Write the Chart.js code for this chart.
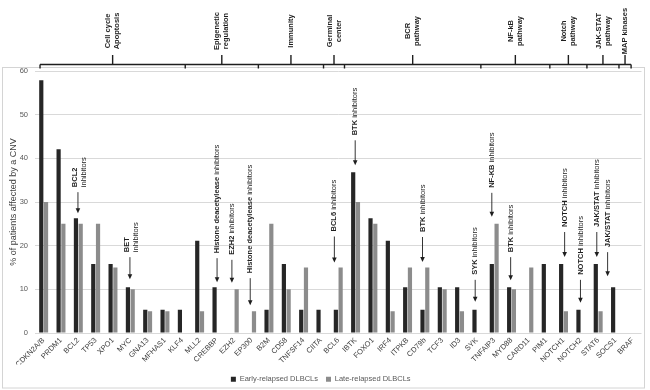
<!DOCTYPE html>
<html><head><meta charset="utf-8">
<script src="https://cdn.jsdelivr.net/npm/chart.js@4/dist/chart.umd.min.js"></script>
<style>html,body{margin:0;padding:0;background:#fff;}#wrap{width:650px;height:390px;position:relative;}</style>
</head><body><div id="wrap"><canvas id="c" width="650" height="390"></canvas></div>
<script>
// ---------- DATA ----------
const categories = ['CDKN2A/B','PRDM1','BCL2','TP53','XPO1','MYC','GNA13','MFHAS1','KLF4','MLL2','CREBBP','EZH2','EP300','B2M','CD58','TNFSF14','CIITA','BCL6','IBTK','FOXO1','IRF4','ITPKB','CD79b','TCF3','ID3','SYK','TNFAIP3','MYD88','CARD11','PIM1','NOTCH1','NOTCH2','STAT6','SOCS1','BRAF'];
const earlyRelapsed = [57.9,42.1,26.3,15.8,15.8,10.5,5.3,5.3,5.3,21.1,10.5,0,0,5.3,15.8,5.3,5.3,5.3,36.8,26.3,21.1,10.5,5.3,10.5,10.5,5.3,15.8,10.5,0,15.8,15.8,5.3,15.8,10.5,0];
const lateRelapsed  = [30,25,25,25,15,10,5,5,0,5,0,10,5,25,10,15,0,15,30,25,5,15,15,10,5,0,25,10,15,0,5,0,5,0,0];
const seriesNames = ['Early-relapsed DLBCLs','Late-relapsed DLBCLs'];
const yTickValues = [0,10,20,30,40,50,60];
const yTitle = '% of patients affected by a CNV';
const groupNames = [['Cell cycle','Apoptosis'],['Epigenetic','regulation'],['Immunity'],['Germinal','center'],['BCR','pathway'],['NF-kB','pathway'],['Notch','pathway'],['JAK-STAT','pathway'],['MAP kinases']];
const annotationGenes = ['BCL2','MYC','CREBBP','EZH2','EP300','BCL6','IBTK','CD79b','SYK','TNFAIP3','MYD88','NOTCH1','NOTCH2','STAT6','SOCS1'];
const annotationTexts = [
  ['**BCL2**','inhibitors'],
  ['**BET**','inhibitors'],
  ['**Histone deacetylease** inhibitors'],
  ['**EZH2** inhibitors'],
  ['**Histone deacetylease** inhibitors'],
  ['**BCL6** inhibitors'],
  ['**BTK** inhibitors'],
  ['**BTK** inhibitors'],
  ['**SYK** inhibitors'],
  ['**NF-KB** inhibitors'],
  ['**BTK** inhibitors'],
  ['**NOTCH** inhibitors'],
  ['**NOTCH** inhibitors'],
  ['**JAK/STAT** inhibitors'],
  ['**JAK/STAT** inhibitors']
];

// ---------- LAYOUT (positions / styles, not data) ----------
const bracketEdges = [-0.21, 8.17, 12.39, 16.15, 17.36, 25.23, 29.21, 31.35, 33.2, 33.9]; // in category-index units
const annDx   = [2, 2, 2.5, 0, 1, -1.5, 2, 0, 0.7, 0, 1.5, 3.5, 2, 1, -5.5];   // px from dark bar centre
const annGap  = [5, 8, 5, 6.5, 6, 5, 7, 5.5, 8, 7, 7, 7, 7, 7, 11];            // px above tallest bar
const annRise = [26, 27, 29, 28, 32, 31, 30, 30, 27, 29, 28, 30, 28, 30, 29];  // tip to text bottom
const FONT = "'Liberation Sans', Arial, Helvetica, sans-serif";
const INK = '#1e1e1e';

Chart.defaults.font.family = FONT;

function parseRich(s){
  const out=[]; const parts=s.split('**');
  parts.forEach((p,i)=>{ if(p.length) out.push({t:p,b:i%2===1}); });
  return out;
}
function drawRich(ctx, s, x, y, size){
  let cx=x;
  parseRich(s).forEach(seg=>{
    ctx.font=(seg.b?'bold ':'')+size+'px '+FONT;
    ctx.fillText(seg.t, cx, y);
    cx+=ctx.measureText(seg.t).width;
  });
}

const bgPlugin = {
  id:'bg',
  afterLayout(chart){
    const lg=chart.legend;
    if(lg){ lg.top+=3; lg.bottom+=3; }
  },
  beforeDraw(chart){
    const c=chart.ctx; c.save(); c.fillStyle='#fff'; c.fillRect(0,0,chart.width,chart.height);
    c.strokeStyle='#d4d4d4'; c.lineWidth=1; c.strokeRect(2.5,67.5,642,320.5);
    c.restore();
  }
};

const decorPlugin = {
  id:'decor',
  afterDraw(chart){
    const xs=chart.scales.x, ys=chart.scales.y, ctx=chart.ctx;
    ctx.save();
    // brackets
    const by=64.5;
    ctx.strokeStyle=INK; ctx.lineWidth=1.4;
    const ex=bracketEdges.map(e=>xs.getPixelForValue(e));
    ctx.beginPath(); ctx.moveTo(ex[0],by); ctx.lineTo(ex[ex.length-1],by); ctx.stroke();
    ex.forEach(x=>{ ctx.beginPath(); ctx.moveTo(x,by); ctx.lineTo(x,by+4); ctx.stroke(); });
    ctx.fillStyle=INK; ctx.textBaseline='middle'; ctx.textAlign='center';
    groupNames.forEach((lines,k)=>{
      const cx=(ex[k]+ex[k+1])/2;
      ctx.beginPath(); ctx.moveTo(cx,by); ctx.lineTo(cx,by-9.5); ctx.stroke();
      ctx.save(); ctx.translate(cx,31); ctx.rotate(-Math.PI/2);
      ctx.font='bold 7.5px '+FONT;
      const lh=9, n=lines.length;
      lines.forEach((ln,j)=>{ ctx.fillText(ln,0,(j-(n-1)/2)*lh); });
      ctx.restore();
    });
    // annotations
    const meta0=chart.getDatasetMeta(0);
    ctx.textAlign='left';
    annotationGenes.forEach((g,k)=>{
      const i=categories.indexOf(g);
      const x=meta0.data[i].x+annDx[k];
      const tip=ys.getPixelForValue(Math.max(earlyRelapsed[i],lateRelapsed[i]))-annGap[k];
      const textBottom=tip-annRise[k];
      ctx.strokeStyle=INK; ctx.lineWidth=0.9;
      ctx.beginPath(); ctx.moveTo(x,textBottom+5); ctx.lineTo(x,tip-4); ctx.stroke();
      ctx.fillStyle=INK;
      ctx.beginPath(); ctx.moveTo(x-2.3,tip-5); ctx.lineTo(x+2.3,tip-5); ctx.lineTo(x,tip); ctx.closePath(); ctx.fill();
      const lines=annotationTexts[k], n=lines.length, lh=9.5;
      ctx.save(); ctx.translate(x+(n>1?1.5:0),textBottom); ctx.rotate(-Math.PI/2);
      ctx.fillStyle=INK;
      lines.forEach((ln,j)=>{ drawRich(ctx, ln, 0, (j-(n-1)/2)*lh, 7.5); });
      ctx.restore();
    });
    ctx.restore();
  }
};

new Chart(document.getElementById('c'),{
  type:'bar',
  data:{
    labels:categories,
    datasets:[
      {label:seriesNames[0], data:earlyRelapsed, backgroundColor:'#262626', categoryPercentage:0.55, barPercentage:0.88},
      {label:seriesNames[1], data:lateRelapsed, backgroundColor:'#8c8c8c', categoryPercentage:0.55, barPercentage:0.88}
    ]
  },
  options:{
    responsive:false, animation:false,
    layout:{padding:{top:71, right:8.5, left:0, bottom:0}},
    plugins:{
      legend:{position:'bottom', labels:{boxWidth:5, boxHeight:5, font:{size:7.5}, color:'#595959', padding:8}},
      tooltip:{enabled:false}
    },
    scales:{
      x:{
        grid:{display:false, drawTicks:false}, border:{display:false},
        ticks:{minRotation:45, maxRotation:45, autoSkip:false, font:{size:7.5}, color:'#404040', padding:3},
        afterFit(s){ s.height=31.5; }
      },
      y:{
        min:0, max:60,
        afterBuildTicks(s){ s.ticks=yTickValues.map(v=>({value:v})); },
        grid:{color:'#d9d9d9', drawTicks:false}, border:{display:false},
        ticks:{font:{size:7.5}, color:'#595959', padding:7},
        title:{display:true, text:yTitle, font:{size:9}, color:'#404040', padding:{top:8,bottom:0}},
        afterFit(s){ s.width=35; }
      }
    }
  },
  plugins:[bgPlugin, decorPlugin]
});
</script></body></html>
